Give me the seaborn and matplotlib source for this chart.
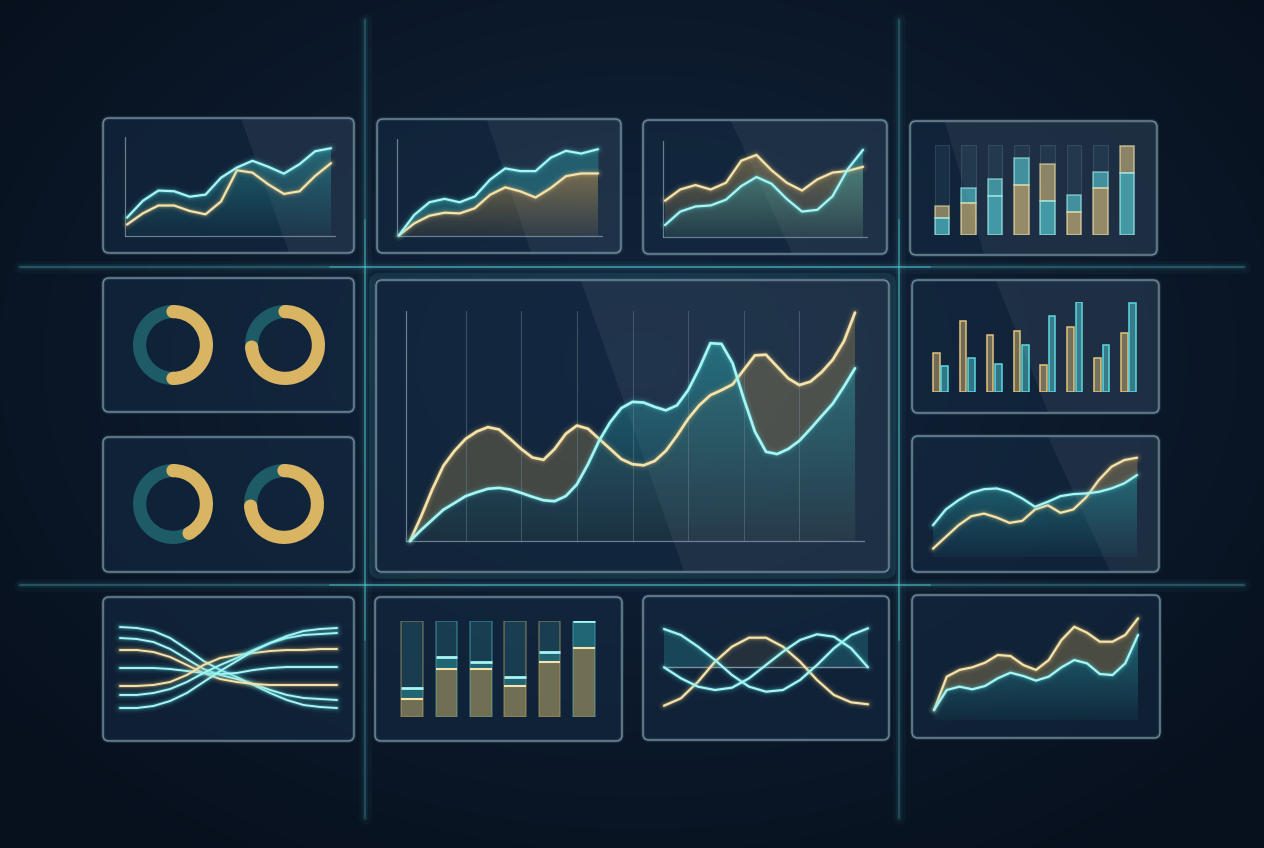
import numpy as np
import pandas as pd
import seaborn as sns
import matplotlib.pyplot as plt
from matplotlib.patches import FancyBboxPatch, Polygon, Circle
from matplotlib.colors import to_rgb

W, H = 1264, 848

# ---------------- data (0-100 scale) ----------------
p1_x = [0, 7.8, 15.4, 23.1, 30.7, 38.5, 46.1, 53.9, 61.5, 69.3, 76.9, 84.6, 92.2, 100]
p1_cyan = [18.5, 35.6, 45.9, 45.2, 39.7, 41.8, 58.9, 69.2, 76, 69.9, 63, 72.6, 85.6, 88.7]
p1_gold = [11.6, 22.9, 30.8, 30.8, 25.3, 21.9, 34.9, 66.4, 64, 52.1, 42.5, 45.2, 60.6, 73.6]

p2_x = [0, 7.6, 15.3, 22.9, 30.5, 38.1, 45.8, 53.4, 61, 68.6, 76.3, 83.9, 91.5, 100]
p2_cyan = [0.7, 21.6, 34.8, 38.3, 34.8, 40.8, 58.2, 69.7, 66.9, 66.9, 80.8, 87.8, 85, 89.5]
p2_gold = [0.7, 12.9, 20.9, 24, 23.3, 28.6, 42.5, 50.2, 46, 39.7, 49.5, 61.7, 64.5, 64.5]

p3_x = [0, 7.7, 15.4, 23.1, 30.8, 38.5, 46.2, 53.8, 61.5, 69.2, 76.9, 84.6, 92.3, 100]
p3_gold = [37.8, 49.5, 54.1, 49.5, 56.5, 79.5, 85.5, 69.6, 56.5, 48.4, 60, 67.1, 68.9, 73.1]
p3_cyan = [12.4, 26.5, 31.8, 32.9, 38.9, 53, 62.5, 55.5, 39.6, 26.5, 28.3, 42.4, 70.7, 90.8]

stack_low = [18.7, 35.6, 43, 56, 38, 25.5, 52.4, 69]
stack_total = [32.6, 52.4, 62.5, 85, 79, 44, 70.4, 99]
stack_low_color = ['cyan', 'gold', 'cyan', 'gold', 'cyan', 'gold', 'gold', 'cyan']
stack_top_color = ['gold', 'cyan', 'cyan', 'cyan', 'gold', 'cyan', 'cyan', 'gold']

donut_share = [0.5, 0.74, 0.42, 0.74]

center_x = [0, 2.5, 5, 7.5, 10, 12.5, 15, 17.5, 20, 22.5, 25, 27.5, 30, 32.5, 35, 37.5, 40,
            42.5, 45, 47.5, 50, 52.5, 55, 57.5, 60, 62.5, 65, 67.5, 70, 72.5, 75, 77.5, 80,
            82.5, 85, 87.5, 90, 92.5, 95, 97.5, 100]
center_gold = [0, 10.7, 22.4, 32.7, 39.2, 44.4, 47.6, 49.5, 48.5, 44.4, 40.0, 36.3, 35.3, 40.0,
               46.6, 50.2, 48.8, 44.4, 40.0, 35.6, 33.4, 32.9, 34.8, 39.2, 45.8, 53.1, 59.0,
               63.4, 65.6, 68.1, 74.4, 80.7, 81.0, 75.8, 70.7, 67.8, 69.3, 73.4, 78.8, 86.8, 99.3]
center_cyan = [0, 4.8, 9.2, 13.6, 16.5, 19.5, 21.2, 22.7, 23.1, 22.4, 20.9, 19.2, 17.7, 17.3,
               19.5, 24.6, 33.4, 43.6, 51.7, 57.8, 60.5, 60.2, 58.3, 56.8, 59.0, 65.6, 75.1,
               86.0, 85.7, 77.3, 61.9, 47.6, 38.8, 37.8, 40.0, 43.6, 48.8, 54.3, 59.7, 67.1, 75.1]

grp_labels = ['1', '2', '3', '4', '5', '6', '7', '8']
grp_gold = [43.8, 79.0, 63.2, 68.0, 30.1, 71.7, 38.2, 65.4]
grp_cyan = [29.4, 37.5, 30.9, 51.8, 84.2, 100, 52.2, 99.3]

r3_x = [0, 6.25, 12.5, 18.75, 25, 31.25, 37.5, 43.75, 50, 56.25, 62.5, 68.75, 75, 81.25, 87.5, 93.75, 100]
r3_cyan = [29.7, 44.4, 53.1, 60, 63.4, 64.1, 60.9, 54.7, 46.9, 51.6, 56.9, 58.8, 59.4, 60.9, 64.1, 68.8, 76.6]
r3_gold = [7.8, 18.8, 29.7, 38.1, 40.6, 36.9, 31.9, 33.8, 44.4, 48.4, 41.3, 44.4, 55.6, 71.9, 84.4, 90.6, 92.8]

wave_x = [0, 7.7, 15.4, 23.1, 30.8, 38.5, 46.2, 53.8, 61.5, 69.2, 76.9, 84.6, 92.3, 100]
wave_lines = [
    ('cyan', [88, 87, 84, 77, 66, 54, 45, 38, 30, 22, 15, 10, 8, 7]),
    ('cyan', [77, 76, 73, 66, 56, 46, 40, 36, 31, 25, 20, 17, 16, 15]),
    ('gold', [65, 65, 63, 58, 50, 42, 36, 33, 31, 30, 30, 30, 30, 30]),
    ('cyan', [47, 47, 47, 46, 44, 42, 41, 42, 45, 47, 48, 48, 48, 48]),
    ('gold', [29, 29, 30, 33, 40, 50, 57, 60, 62, 64, 65, 65, 66, 66]),
    ('cyan', [20, 20, 22, 26, 33, 42, 50, 57, 65, 72, 77, 80, 81, 82]),
    ('cyan', [7, 7, 9, 14, 22, 33, 44, 54, 64, 72, 79, 84, 86, 87]),
]

level_gold = [18.8, 49.6, 49.6, 31.9, 57.8, 72]
level_total = [30.1, 62.1, 57.4, 41.5, 67.4, 100]
level_edge = ['gold', 'cyan', 'cyan', 'gold', 'gold', 'cyan']

sine_x = [0, 8.3, 16.7, 25, 33.3, 41.7, 50, 58.3, 66.7, 75, 83.3, 91.7, 100]
sine_gold = [9.3, 16.7, 33.3, 53.3, 68.3, 77.3, 77.3, 68.3, 53.3, 35, 20, 12.7, 10.7]
sine_cyan_a = [86, 80, 68.3, 55, 40, 28.3, 23.3, 25, 35, 50, 66.7, 80, 86.7]
sine_cyan_b = [47.7, 36.7, 28.3, 25, 27.3, 36.7, 50, 63.3, 75, 80.7, 78.3, 66.7, 47.7]
sine_mid = 47.7

r4_x = [0, 6.25, 12.5, 18.75, 25, 31.25, 37.5, 43.75, 50, 56.25, 62.5, 68.75, 75, 81.25, 87.5, 93.75, 100]
r4_gold = [9.1, 39.4, 45.5, 47.9, 52.1, 59.1, 58.2, 50, 45.5, 54.5, 72.7, 84.8, 79.4, 71.2, 71.2, 77.3, 92.4]
r4_cyan = [9.1, 27.3, 30.3, 27.9, 30.9, 37.9, 43, 40, 35.8, 39.4, 47.9, 54.5, 51.5, 41.8, 40.9, 51.5, 77.3]

# ---------------- style ----------------
CYAN = '#5ad9e0'
CYAN_CORE = '#a8f6f4'
GOLD = '#e2c27a'
GOLD_CORE = '#f6e3ac'
TEAL_FILL = '#2b97a0'
GOLD_FILL = '#b99a58'
DONUT_GOLD = '#d8b463'
DONUT_TEAL = '#1d5b66'
AXIS_COL = '#8ea6b4'
COLORS = {'cyan': CYAN, 'gold': GOLD}
CORES = {'cyan': CYAN_CORE, 'gold': GOLD_CORE}

sns.set_theme(style='white')
fig = plt.figure(figsize=(W / 100, H / 100), dpi=100)

# background
bg = fig.add_axes([0, 0, 1, 1])
yy, xx = np.mgrid[0:H, 0:W]
d = np.clip(np.sqrt(((xx - 640) / 820.0) ** 2 + ((yy - 360) / 600.0) ** 2), 0, 1)
c_in, c_out = np.array(to_rgb('#12253d')), np.array(to_rgb('#07101d'))
img = c_in[None, None, :] * (1 - d[..., None]) + c_out[None, None, :] * d[..., None]
bg.imshow(img, extent=[0, W, H, 0], aspect='auto', zorder=0)
bg.set_xlim(0, W)
bg.set_ylim(H, 0)
bg.set_axis_off()

# glowing guide lines
for yv in [267, 585]:
    for lw, a in [(9, 0.04), (4, 0.08), (1.2, 0.3)]:
        bg.plot([20, W - 20], [yv, yv], color=CYAN, lw=lw, alpha=a, zorder=1)
    bg.plot([330, 930], [yv, yv], color=CYAN, lw=1.4, alpha=0.35, zorder=1)
for xv in [365, 899]:
    for lw, a in [(9, 0.04), (4, 0.08), (1.2, 0.25)]:
        bg.plot([xv, xv], [20, H - 30], color=CYAN, lw=lw, alpha=a, zorder=1)
    bg.plot([xv, xv], [220, 640], color=CYAN, lw=1.4, alpha=0.3, zorder=1)

panels = [
    (103, 118, 354, 253, 0.55, 0.74),
    (377, 119, 621, 253, 0.45, 0.63),
    (643, 120, 887, 254, 0.36, 0.61),
    (910, 121, 1157, 255, 0.14, 0.30),
    (103, 278, 354, 412, None, None),
    (376, 280, 889, 572, 0.40, 0.60),
    (912, 280, 1159, 413, 0.34, 0.55),
    (103, 437, 354, 572, None, None),
    (912, 436, 1159, 572, 0.55, 0.80),
    (103, 597, 354, 741, None, None),
    (375, 597, 622, 741, None, None),
    (643, 596, 889, 740, None, None),
    (912, 595, 1160, 738, None, None),
]
bg.add_patch(FancyBboxPatch((372, 276), 521, 300, boxstyle='round,pad=0,rounding_size=7',
                            fc='none', ec=CYAN, lw=4, alpha=0.12, zorder=2))
for x0, y0, x1, y1, ft, fb in panels:
    w, h = x1 - x0, y1 - y0
    bg.add_patch(FancyBboxPatch((x0, y0), w, h, boxstyle='round,pad=0,rounding_size=6',
                                fc='#152c45', ec='none', alpha=0.55, zorder=2))
    if ft is not None:
        bg.add_patch(Polygon([(x0 + ft * w, y0 + 1), (x1 - 1, y0 + 1), (x1 - 1, y1 - 1),
                              (x0 + fb * w, y1 - 1)], closed=True, fc='white', ec='none',
                             alpha=0.06, zorder=3))
    bg.add_patch(FancyBboxPatch((x0, y0), w, h, boxstyle='round,pad=0,rounding_size=6',
                                fc='none', ec='#9ec3cf', lw=3, alpha=0.12, zorder=4))
    bg.add_patch(FancyBboxPatch((x0, y0), w, h, boxstyle='round,pad=0,rounding_size=6',
                                fc='none', ec='#9ec3cf', lw=1.1, alpha=0.6, zorder=4))


def px_axes(x0, y0, x1, y1, xlim=(0, 100), ylim=(0, 100)):
    ax = fig.add_axes([x0 / W, 1 - y1 / H, (x1 - x0) / W, (y1 - y0) / H])
    ax.set_axis_off()
    ax.patch.set_alpha(0)
    ax.set_xlim(*xlim)
    ax.set_ylim(*ylim)
    return ax


def glow_line(ax, x, y, kind, lw=1.6):
    for w, a in [(8, 0.05), (5, 0.1), (3, 0.22)]:
        sns.lineplot(x=x, y=y, ax=ax, color=COLORS[kind], linewidth=w, alpha=a,
                     legend=False, sort=False, clip_on=False,
                     solid_capstyle='round', solid_joinstyle='round')
    sns.lineplot(x=x, y=y, ax=ax, color=CORES[kind], linewidth=lw, legend=False,
                 sort=False, clip_on=False, solid_capstyle='round', solid_joinstyle='round')


def grad_fill(ax, x, y_top, y_bot, color, a_top, a_bot, z=1):
    x = np.asarray(x, float)
    yt = np.asarray(y_top, float)
    yb = np.broadcast_to(np.asarray(y_bot, float), x.shape)
    poly = ax.fill_between(x, yb, yt, facecolor='none', edgecolor='none')
    lo, hi = min(yb.min(), yt.min()), max(yb.max(), yt.max())
    grad = np.zeros((256, 1, 4))
    grad[..., :3] = to_rgb(color)
    grad[:, 0, 3] = np.linspace(a_top, a_bot, 256)
    xl, yl = ax.get_xlim(), ax.get_ylim()
    im = ax.imshow(grad, aspect='auto', extent=[x.min(), x.max(), lo, hi], origin='upper', zorder=z)
    im.set_clip_path(poly.get_paths()[0], ax.transData)
    ax.set_xlim(xl)
    ax.set_ylim(yl)


def axis_frame(ax, grid=None):
    ax.plot([-1, -1], [0, 100], color=AXIS_COL, lw=0.9, alpha=0.7, clip_on=False)
    ax.plot([-1, 102], [0, 0], color=AXIS_COL, lw=0.9, alpha=0.7, clip_on=False)
    if grid:
        for gx in grid:
            ax.plot([gx, gx], [0, 100], color='#6d8595', lw=0.8, alpha=0.45)


def two_curve(ax, x, gold, cyan):
    grad_fill(ax, x, cyan, 0, TEAL_FILL, 0.55, 0.08)
    g, c = np.asarray(gold), np.asarray(cyan)
    ax.fill_between(x, c, g, where=g > c, interpolate=True, color=GOLD_FILL, alpha=0.35, lw=0)
    glow_line(ax, x, gold, 'gold')
    glow_line(ax, x, cyan, 'cyan')


# top row line charts
ax = px_axes(127, 137, 331, 236)
axis_frame(ax)
two_curve(ax, p1_x, p1_gold, p1_cyan)

ax = px_axes(399, 139, 598, 236)
axis_frame(ax)
grad_fill(ax, p2_x, p2_gold, 0, GOLD_FILL, 0.55, 0.12)
ax.fill_between(p2_x, p2_gold, p2_cyan, color=TEAL_FILL, alpha=0.45, lw=0)
glow_line(ax, p2_x, p2_gold, 'gold')
glow_line(ax, p2_x, p2_cyan, 'cyan')

ax = px_axes(665, 141, 863, 237)
axis_frame(ax)
grad_fill(ax, p3_x, p3_gold, 0, GOLD_FILL, 0.5, 0.1)
grad_fill(ax, p3_x, p3_cyan, 0, TEAL_FILL, 0.6, 0.1, z=2)
glow_line(ax, p3_x, p3_gold, 'gold')
glow_line(ax, p3_x, p3_cyan, 'cyan')

# top right stacked bars
ax = px_axes(929, 145, 1140, 235, xlim=(-0.5, 7.5))
pos = np.arange(len(stack_total))
ax.bar(pos, [100] * len(pos), width=0.55, color='#3d6a7e', alpha=0.18, edgecolor='#8fb5c2', lw=0.8)
low_c = [COLORS[k] for k in stack_low_color]
top_c = [COLORS[k] for k in stack_top_color]
ax.bar(pos, np.subtract(stack_total, stack_low), bottom=stack_low, width=0.55, color=top_c,
       alpha=0.55, edgecolor=[CORES[k] for k in stack_top_color], lw=1.2)
ax.bar(pos, stack_low, width=0.55, color=low_c, alpha=0.6,
       edgecolor=[CORES[k] for k in stack_low_color], lw=1.2)

# donuts
donut_centers = [(173, 345), (285, 345), (173, 504), (284, 504)]
for (cx, cy), share in zip(donut_centers, donut_share):
    ax = px_axes(cx - 42, cy - 42, cx + 42, cy + 42, xlim=(-1.05, 1.05), ylim=(-1.05, 1.05))
    ax.pie([share, 1 - share], colors=[DONUT_GOLD, DONUT_TEAL], startangle=90,
           counterclock=False, wedgeprops=dict(width=0.33, edgecolor='none'))
    # rounded end caps of the gold arc
    for ang in [90, 90 - 360 * share]:
        t = np.deg2rad(ang)
        ax.add_patch(Circle((0.835 * np.cos(t), 0.835 * np.sin(t)), 0.165, fc=DONUT_GOLD, ec='none'))
    ax.set_xlim(-1.05, 1.05)
    ax.set_ylim(-1.05, 1.05)

# center chart
ax = px_axes(410, 311, 855, 541)
axis_frame(ax, grid=[12.5, 25, 37.5, 50, 62.5, 75, 87.5])
grad_fill(ax, center_x, center_cyan, 0, TEAL_FILL, 0.6, 0.05)
g, c = np.asarray(center_gold), np.asarray(center_cyan)
ax.fill_between(center_x, c, g, where=g > c, interpolate=True, color=GOLD_FILL, alpha=0.3, lw=0)
ax.fill_between(center_x, 0, np.minimum(g, c), color=GOLD_FILL, alpha=0.06, lw=0)
glow_line(ax, center_x, center_gold, 'gold', lw=1.9)
glow_line(ax, center_x, center_cyan, 'cyan', lw=1.9)

# grouped bars (right, row 2)
ax = px_axes(927, 302, 1142, 392, xlim=(-0.5, 7.5))
grp_df = pd.DataFrame({
    'group': grp_labels * 2,
    'value': grp_gold + grp_cyan,
    'series': ['gold'] * len(grp_gold) + ['cyan'] * len(grp_cyan),
})
sns.barplot(data=grp_df, x='group', y='value', hue='series', palette=COLORS, width=0.62,
            gap=0.2, saturation=1, ax=ax, legend=False, order=grp_labels, hue_order=['gold', 'cyan'])
for p in ax.patches:
    fc = p.get_facecolor()
    p.set_facecolor((fc[0], fc[1], fc[2], 0.45))
    p.set_edgecolor((fc[0], fc[1], fc[2], 1.0))
    p.set_linewidth(1.1)
ax.set_xlim(-0.5, 7.5)
ax.set_ylim(0, 100)
ax.set_axis_off()

# right row 3 line chart
ax = px_axes(933, 450, 1137, 557)
two_curve(ax, r3_x, r3_gold, r3_cyan)

# braided lines
ax = px_axes(120, 615, 337, 715)
for kind, vals in wave_lines:
    glow_line(ax, wave_x, vals, kind, lw=1.4)

# level bars
ax = px_axes(395, 621, 601, 717, xlim=(-0.5, 5.5))
pos = np.arange(len(level_total))
edge_c = [COLORS[k] for k in level_edge]
ax.bar(pos, [100] * len(pos), width=0.64, color='#2c6f7c', alpha=0.35, edgecolor=edge_c, lw=1.2)
ax.bar(pos, np.subtract(level_total, level_gold), bottom=level_gold, width=0.64, color=TEAL_FILL,
       alpha=0.45, lw=0)
ax.bar(pos, level_gold, width=0.64, color=GOLD_FILL, alpha=0.55, lw=0)
ax.hlines(level_total, pos - 0.32, pos + 0.32, color=CYAN_CORE, lw=2)
ax.hlines(level_gold, pos - 0.32, pos + 0.32, color=GOLD_CORE, lw=1.5)

# sine waves
ax = px_axes(664, 615, 868, 715)
ax.fill_between(sine_x, sine_mid, sine_cyan_a, where=np.asarray(sine_cyan_a) > sine_mid,
                interpolate=True, color=TEAL_FILL, alpha=0.3, lw=0)
ax.fill_between(sine_x, sine_mid, sine_gold, where=np.asarray(sine_gold) > sine_mid,
                interpolate=True, color=GOLD_FILL, alpha=0.12, lw=0)
ax.plot([0, 100], [sine_mid, sine_mid], color='#a9c0c8', lw=1, alpha=0.7)
glow_line(ax, sine_x, sine_gold, 'gold')
glow_line(ax, sine_x, sine_cyan_a, 'cyan')
glow_line(ax, sine_x, sine_cyan_b, 'cyan')

# bottom right line chart
ax = px_axes(934, 610, 1138, 720)
two_curve(ax, r4_x, r4_gold, r4_cyan)

fig.savefig('out.png', dpi=100)
